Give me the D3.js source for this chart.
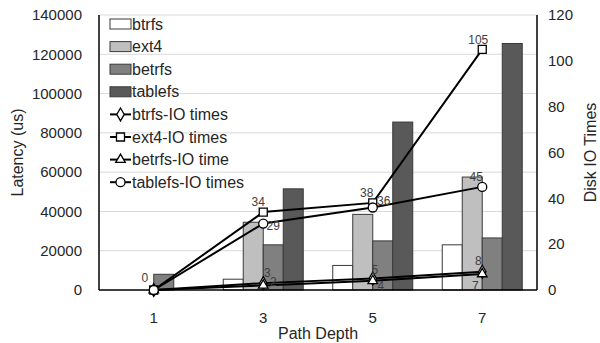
<!DOCTYPE html>
<html>
<head>
<meta charset="utf-8">
<script src="https://cdn.jsdelivr.net/npm/d3@7"></script>
<style>
  body { margin: 0; background: #fff; }
  svg { display: block; font-family: "Liberation Sans", Arial, sans-serif; }
</style>
</head>
<body>
<svg width="600" height="343"></svg>
<script>
// data
const depths = ["1", "3", "5", "7"];
const barSeries = ["btrfs", "ext4", "betrfs", "tablefs"];
const btrfsLatency = [0, 5500, 12500, 23000];
const ext4Latency = [0, 34500, 38500, 57500];
const betrfsLatency = [8000, 23000, 25000, 26500];
const tablefsLatency = [0, 51500, 85500, 125500];

const lineSeries = ["btrfs-IO times", "ext4-IO times", "betrfs-IO time", "tablefs-IO times"];
const btrfsIO = [0, 3, 5, 8];
const ext4IO = [0, 34, 38, 105];
const betrfsIO = [0, 2, 4, 7];
const tablefsIO = [0, 29, 36, 45];

const latencyTicks = [0, 20000, 40000, 60000, 80000, 100000, 120000, 140000];
const ioTicks = [0, 20, 40, 60, 80, 100, 120];

const barValues = [btrfsLatency, ext4Latency, betrfsLatency, tablefsLatency];
const lineValues = [btrfsIO, ext4IO, betrfsIO, tablefsIO];

// styling
const barFill = ["#ffffff", "#bfbfbf", "#808080", "#595959"];
const markers = [d3.symbolDiamond, d3.symbolSquare, d3.symbolTriangle, d3.symbolCircle];
const markerSize = [48, 64, 40, 64];
// label offsets [dx, dy] for each line series at each depth (null = no label)
const labelOffsets = [
  [null, [4, -10], [2, -9], [-4, -11]],
  [[-9, -12], [-5, -10], [-6, -10], [-4, -10]],
  [null, [10, -4], [8, 5], [-7, 12]],
  [null, [10, 2], [11, -7], [-6, -10]]
];

const svg = d3.select("svg");
const margin = { left: 99, right: 537, top: 15, bottom: 290 };

const x = d3.scaleBand().domain(depths).range([margin.left, margin.right]);
const xInner = d3.scaleBand().domain(barSeries).range([-40, 40]);
const yL = d3.scaleLinear().domain([0, 140000]).range([margin.bottom, margin.top]);
const yR = d3.scaleLinear().domain([0, 120]).range([margin.bottom, margin.top]);
const cx = d => x(d) + x.bandwidth() / 2;

// gridlines
svg.append("g")
  .selectAll("line")
  .data(latencyTicks.slice(1))
  .join("line")
  .attr("x1", margin.left).attr("x2", margin.right)
  .attr("y1", d => yL(d)).attr("y2", d => yL(d))
  .attr("stroke", "#d9d9d9").attr("stroke-width", 1);

// axes
const leftAxis = svg.append("g")
  .attr("transform", `translate(${margin.left},0)`)
  .call(d3.axisLeft(yL).tickValues(latencyTicks).tickSize(0).tickPadding(17).tickFormat(d3.format("d")));
const rightAxis = svg.append("g")
  .attr("transform", `translate(${margin.right},0)`)
  .call(d3.axisRight(yR).tickValues(ioTicks).tickSize(0).tickPadding(11));
const bottomAxis = svg.append("g")
  .attr("transform", `translate(0,${margin.bottom})`)
  .call(d3.axisBottom(x).tickSize(0).tickPadding(22));

[leftAxis, rightAxis, bottomAxis].forEach(a => {
  a.select(".domain").remove();
  a.selectAll("text").attr("font-size", 15).attr("fill", "#262626")
    .attr("font-family", "Liberation Sans, Arial, sans-serif");
});

// bars
svg.append("g")
  .selectAll("g")
  .data(barSeries.map((s, i) => ({ s, i })))
  .join("g")
  .attr("fill", d => barFill[d.i])
  .selectAll("rect")
  .data(d => depths.map((dep, j) => ({ s: d.s, dep, v: barValues[d.i][j] })))
  .join("rect")
  .attr("x", d => cx(d.dep) + xInner(d.s))
  .attr("y", d => yL(d.v))
  .attr("width", xInner.bandwidth())
  .attr("height", d => yL(0) - yL(d.v))
  .attr("stroke", "#3a3a3a")
  .attr("stroke-width", d => d.v > 0 ? 1 : 0);

// axis lines
svg.append("line").attr("x1", margin.left).attr("x2", margin.left)
  .attr("y1", margin.top).attr("y2", margin.bottom).attr("stroke", "#000").attr("stroke-width", 1.5);
svg.append("line").attr("x1", margin.right).attr("x2", margin.right)
  .attr("y1", margin.top).attr("y2", margin.bottom).attr("stroke", "#000").attr("stroke-width", 1.5);
svg.append("line").attr("x1", margin.left).attr("x2", margin.right)
  .attr("y1", margin.bottom).attr("y2", margin.bottom).attr("stroke", "#000").attr("stroke-width", 1.5);

// lines
const line = d3.line().x(d => cx(d.dep)).y(d => yR(d.v));
const linePts = lineValues.map(vals => depths.map((dep, j) => ({ dep, v: vals[j] })));

svg.append("g")
  .selectAll("path")
  .data(linePts)
  .join("path")
  .attr("d", line)
  .attr("fill", "none")
  .attr("stroke", "#000")
  .attr("stroke-width", 2);

linePts.forEach((pts, i) => {
  svg.append("g")
    .selectAll("path")
    .data(pts)
    .join("path")
    .attr("transform", d => `translate(${cx(d.dep)},${yR(d.v)})`)
    .attr("d", d3.symbol().type(markers[i]).size(markerSize[i]))
    .attr("fill", "#fff")
    .attr("stroke", "#000")
    .attr("stroke-width", 1.3);
});

// data labels
linePts.forEach((pts, i) => {
  svg.append("g")
    .selectAll("text")
    .data(pts.map((p, j) => ({ ...p, off: labelOffsets[i][j] })).filter(d => d.off))
    .join("text")
    .attr("x", d => cx(d.dep) + d.off[0])
    .attr("y", d => yR(d.v) + d.off[1])
    .attr("text-anchor", "middle")
    .attr("dy", "0.35em")
    .attr("font-size", 12)
    .attr("fill", "#404040")
    .text(d => d.v);
});

// axis titles
svg.append("text")
  .attr("transform", `translate(23,${(margin.top + margin.bottom) / 2}) rotate(-90)`)
  .attr("text-anchor", "middle")
  .attr("font-size", 16).attr("fill", "#262626")
  .text("Latency (us)");
svg.append("text")
  .attr("transform", `translate(596,${(margin.top + margin.bottom) / 2}) rotate(-90)`)
  .attr("text-anchor", "middle")
  .attr("font-size", 16).attr("fill", "#262626")
  .text("Disk IO Times");
svg.append("text")
  .attr("x", (margin.left + margin.right) / 2)
  .attr("y", 339)
  .attr("text-anchor", "middle")
  .attr("font-size", 16).attr("fill", "#262626")
  .text("Path Depth");

// legend
const legend = svg.append("g").attr("transform", "translate(110,24)");
const rowH = 22.6;
barSeries.forEach((s, i) => {
  const g = legend.append("g").attr("transform", `translate(0,${i * rowH})`);
  g.append("rect").attr("x", 0).attr("y", -5).attr("width", 21).attr("height", 10)
    .attr("fill", barFill[i]).attr("stroke", "#3a3a3a").attr("stroke-width", 1);
  g.append("text").attr("x", 22).attr("dy", "0.35em").attr("font-size", 16)
    .attr("fill", "#262626").text(s);
});
lineSeries.forEach((s, i) => {
  const g = legend.append("g").attr("transform", `translate(0,${(i + 4) * rowH})`);
  g.append("line").attr("x1", 0).attr("x2", 21).attr("stroke", "#000").attr("stroke-width", 2);
  g.append("path").attr("transform", "translate(10.5,0)")
    .attr("d", d3.symbol().type(markers[i]).size(markerSize[i]))
    .attr("fill", "#fff").attr("stroke", "#000").attr("stroke-width", 1.3);
  g.append("text").attr("x", 22).attr("dy", "0.35em").attr("font-size", 16)
    .attr("fill", "#262626").text(s);
});
</script>
</body>
</html>
